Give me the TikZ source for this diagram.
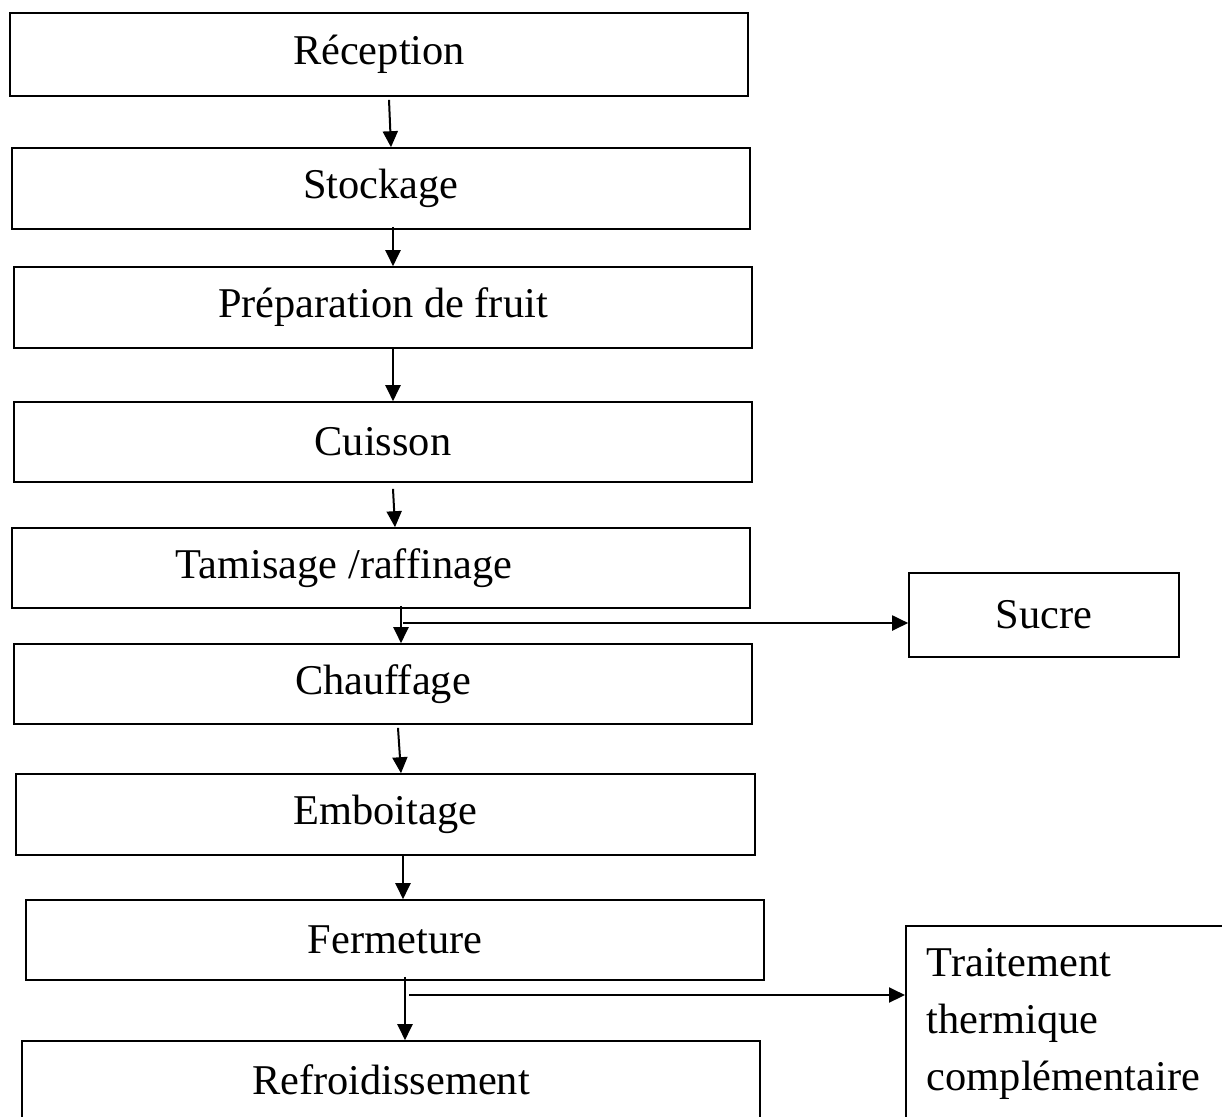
\documentclass[tikz,border=0pt]{standalone}
\usepackage{fontspec}
\setmainfont{Liberation Serif}
\usepackage{tikz}
\usetikzlibrary{arrows.meta}

\tikzset{
  etape/.style={draw, rectangle, line width=0.8pt, inner sep=0pt,
    minimum width=369pt, minimum height=40pt},
  fleche/.style={line width=1pt, -{Triangle[length=8pt,width=7.5pt]}},
  every node/.style={font=\fontsize{21.2pt}{28.5pt}\selectfont}
}

\begin{document}
\begin{tikzpicture}[x=0.5pt, y=-0.5pt]
            \useasboundingbox (0,0) rectangle (1222,1116);
            % les etapes
            \node (recep) at (379,54.5) [etape, minimum height=41.5pt] {Réception};
            \node (stock) at (381,188.5) [etape, minimum height=40.5pt] {Stockage};
            \node (prep) at (383,307.5) [etape, minimum height=40.5pt] {Préparation de fruit};
            \node (cuis) at (383,442) [etape] {Cuisson};
            \node (tamis) at (381,568) [etape] {Tamisage /raffinage\rule{37pt}{0pt}};
            \node (chauf) at (383,684) [etape] {Chauffage};
            \node (embo) at (385.5,814.5) [etape, minimum width=369.5pt, minimum height=40.5pt] {Emboitage};
            \node (ferm) at (395,940) [etape] {Fermeture};
            \node (refr) at (391,1080) [etape, minimum height=39pt] {Refroidissement};
            % les ajouts
            \node (sucre) at (1044,615) [etape, minimum width=135pt, minimum height=42pt] {Sucre};
            \node (trait) at (905,925) [draw, line width=0.8pt, anchor=north west,
              text width=150pt, align=left, inner xsep=10.5pt, inner ysep=11.5pt]
              {Traitement\\thermique\\complémentaire};
            % les fleches
            \draw[fleche] ([xshift=5pt, yshift=-1.5pt]recep.south) -- ([xshift=5pt]stock.north);
            \draw[fleche] ([xshift=6pt, yshift=1.5pt]stock.south) -- ([xshift=5pt]prep.north);
            \draw[fleche] ([xshift=5pt]prep.south) -- ([xshift=5pt]cuis.north);
            \draw[fleche] ([xshift=5pt, yshift=-3pt]cuis.south) -- ([xshift=7pt]tamis.north);
            \draw[fleche] ([xshift=10pt, yshift=1.5pt]tamis.south) -- ([xshift=9pt]chauf.north);
            \draw[fleche] ([xshift=7.5pt, yshift=-1.5pt]chauf.south) -- ([xshift=7.75pt]embo.north);
            \draw[fleche] ([xshift=8.75pt]embo.south) -- ([xshift=4pt]ferm.north);
            \draw[fleche] ([xshift=5pt, yshift=2pt]ferm.south) -- ([xshift=7pt]refr.north);
            % les branchements
            \coordinate (b1) at (403,623);
            \coordinate (b2) at (409,995);
            \draw[fleche] (b1) -- (b1 -| sucre.west);
            \draw[fleche] (b2) -- (b2 -| trait.west);
        \end{tikzpicture}
\end{document}
